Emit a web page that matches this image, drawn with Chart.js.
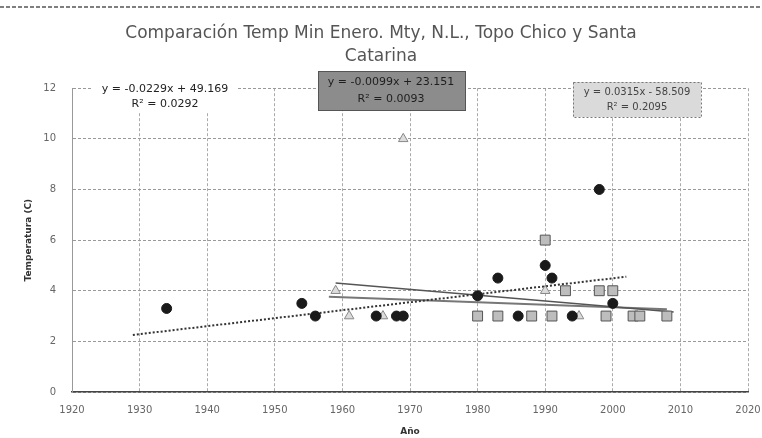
<!DOCTYPE html>
<html>
<head>
    <title>Comparación Temp Min Enero</title>
    <script src="https://cdn.jsdelivr.net/npm/chart.js"></script>
    <style>
        html, body { margin: 0; padding: 0; background: #fff; }
        #wrap { width: 762px; height: 438px; position: relative; }
    </style>
</head>
<body>
    <div id="wrap">
        <canvas id="tempChart" width="762" height="438"></canvas>
    </div>

    <script>
        // Mty, N.L. (circles)
        const mtyYears = [1934, 1954, 1956, 1965, 1968, 1969, 1980, 1983, 1986, 1990, 1991, 1994, 1998, 2000];
        const mtyTemps = [3.3, 3.5, 3.0, 3.0, 3.0, 3.0, 3.8, 4.5, 3.0, 5.0, 4.5, 3.0, 8.0, 3.5];

        // Topo Chico (triangles)
        const topoYears = [1959, 1961, 1966, 1969, 1990, 1995];
        const topoTemps = [4.0, 3.0, 3.0, 10.0, 4.0, 3.0];

        // Santa Catarina (squares)
        const santaYears = [1980, 1983, 1988, 1990, 1991, 1993, 1998, 1999, 2000, 2003, 2004, 2008];
        const santaTemps = [3.0, 3.0, 3.0, 6.0, 3.0, 4.0, 4.0, 3.0, 4.0, 3.0, 3.0, 3.0];

        // trend lines as printed on the chart: slope, intercept, first and last year drawn
        const trendSlopes = [0.0315, -0.0229, -0.0099];
        const trendIntercepts = [-58.509, 49.169, 23.151];
        const trendFrom = [1929, 1959, 1958];
        const trendTo = [2002, 2009, 2008];
        const trendLabels = [
            ['y = 0.0315x - 58.509', 'R² = 0.2095'],
            ['y = -0.0229x + 49.169', 'R² = 0.0292'],
            ['y = -0.0099x + 23.151', 'R² = 0.0093']
        ];

        const toPoints = (xs, ys) => xs.map((x, i) => ({ x: x, y: ys[i] }));
        const trendPoints = i => [trendFrom[i], trendTo[i]].map(x => ({ x: x, y: trendSlopes[i] * x + trendIntercepts[i] }));

        const FONT = "'DejaVu Sans', sans-serif";

        // equation boxes + the dashed line at the top of the scan
        const labelsPlugin = {
            id: 'labels',
            afterDraw(chart) {
                const ctx = chart.ctx;
                ctx.save();
                ctx.strokeStyle = '#555';
                ctx.lineWidth = 1.5;
                ctx.setLineDash([4, 2]);
                ctx.beginPath();
                ctx.moveTo(0, 7);
                ctx.lineTo(762, 7);
                ctx.stroke();
                ctx.setLineDash([]);

                ctx.font = '11px ' + FONT;
                ctx.textAlign = 'center';
                ctx.textBaseline = 'middle';

                // plain label
                ctx.fillStyle = '#fff';
                ctx.fillRect(92, 82, 146, 30);
                ctx.fillStyle = '#222';
                ctx.fillText(trendLabels[1][0], 165, 89);
                ctx.fillText(trendLabels[1][1], 165, 104);

                // dark grey box
                ctx.fillStyle = '#8c8c8c';
                ctx.fillRect(318, 71, 147, 39);
                ctx.strokeStyle = '#555';
                ctx.lineWidth = 1;
                ctx.strokeRect(318.5, 71.5, 147, 39);
                ctx.fillStyle = '#1e1e1e';
                ctx.fillText(trendLabels[2][0], 391, 82);
                ctx.fillText(trendLabels[2][1], 391, 99);

                // light grey box
                ctx.fillStyle = '#dadada';
                ctx.fillRect(573, 82, 128, 35);
                ctx.strokeStyle = '#777';
                ctx.setLineDash([2, 2]);
                ctx.strokeRect(573.5, 82.5, 128, 35);
                ctx.setLineDash([]);
                ctx.fillStyle = '#444';
                ctx.font = '10px ' + FONT;
                ctx.fillText(trendLabels[0][0], 637, 92);
                ctx.fillText(trendLabels[0][1], 637, 107);
                ctx.restore();
            }
        };

        const ctx = document.getElementById('tempChart').getContext('2d');
        new Chart(ctx, {
            type: 'scatter',
            data: {
                datasets: [
                    {
                        label: 'Mty, N.L.',
                        data: toPoints(mtyYears, mtyTemps),
                        pointStyle: 'circle',
                        pointRadius: 5,
                        backgroundColor: '#1a1a1a',
                        borderColor: '#1a1a1a'
                    },
                    {
                        label: 'Topo Chico',
                        data: toPoints(topoYears, topoTemps),
                        pointStyle: 'triangle',
                        pointRadius: 5.5,
                        backgroundColor: '#dcdcdc',
                        borderColor: '#888',
                        borderWidth: 1
                    },
                    {
                        label: 'Santa Catarina',
                        data: toPoints(santaYears, santaTemps),
                        pointStyle: 'rect',
                        pointRadius: 7,
                        backgroundColor: '#bdbdbd',
                        borderColor: '#555',
                        borderWidth: 1
                    },
                    {
                        label: 'Tendencia Mty',
                        type: 'line',
                        data: trendPoints(0),
                        borderColor: '#333',
                        borderWidth: 2,
                        borderDash: [2, 2],
                        pointRadius: 0,
                        fill: false
                    },
                    {
                        label: 'Tendencia Santa Catarina',
                        type: 'line',
                        data: trendPoints(1),
                        borderColor: '#555',
                        borderWidth: 1.5,
                        pointRadius: 0,
                        fill: false
                    },
                    {
                        label: 'Tendencia Topo Chico',
                        type: 'line',
                        data: trendPoints(2),
                        borderColor: '#777',
                        borderWidth: 2,
                        pointRadius: 0,
                        fill: false
                    }
                ]
            },
            options: {
                responsive: false,
                animation: false,
                layout: { padding: { left: 0, right: 0, top: 0, bottom: 0 } },
                plugins: {
                    legend: { display: false },
                    tooltip: { enabled: false },
                    title: {
                        display: true,
                        text: ['Comparación Temp Min Enero. Mty, N.L., Topo Chico y Santa', 'Catarina'],
                        color: '#555',
                        font: { family: FONT, size: 17, weight: 'normal', lineHeight: 1.3 },
                        padding: { top: 23, bottom: 21 }
                    }
                },
                scales: {
                    x: {
                        type: 'linear',
                        min: 1920,
                        max: 2020,
                        afterFit: s => { s.height = 46; s.paddingRight = 14; },
                        ticks: {
                            stepSize: 10,
                            color: '#666',
                            padding: 12,
                            font: { family: FONT, size: 10 },
                            callback: v => String(v)
                        },
                        grid: { color: '#aaa', drawTicks: false },
                        border: { color: '#444', width: 1.5, dash: [3, 2] },
                        title: {
                            display: true,
                            text: 'Año',
                            color: '#333',
                            font: { family: FONT, size: 9, weight: 'bold' },
                            padding: { top: 2, bottom: 1 }
                        }
                    },
                    y: {
                        min: 0,
                        max: 12,
                        afterFit: s => { s.width = 72; },
                        ticks: { stepSize: 2, color: '#666', padding: 16, font: { family: FONT, size: 10 } },
                        grid: { color: '#999', drawTicks: false },
                        border: { color: '#999', dash: [3, 2] },
                        title: {
                            display: true,
                            text: 'Temperatura (C)',
                            color: '#333',
                            font: { family: FONT, size: 9, weight: 'bold' },
                            padding: { top: 23, bottom: 0 }
                        }
                    }
                }
            },
            plugins: [labelsPlugin]
        });
    </script>
</body>
</html>
